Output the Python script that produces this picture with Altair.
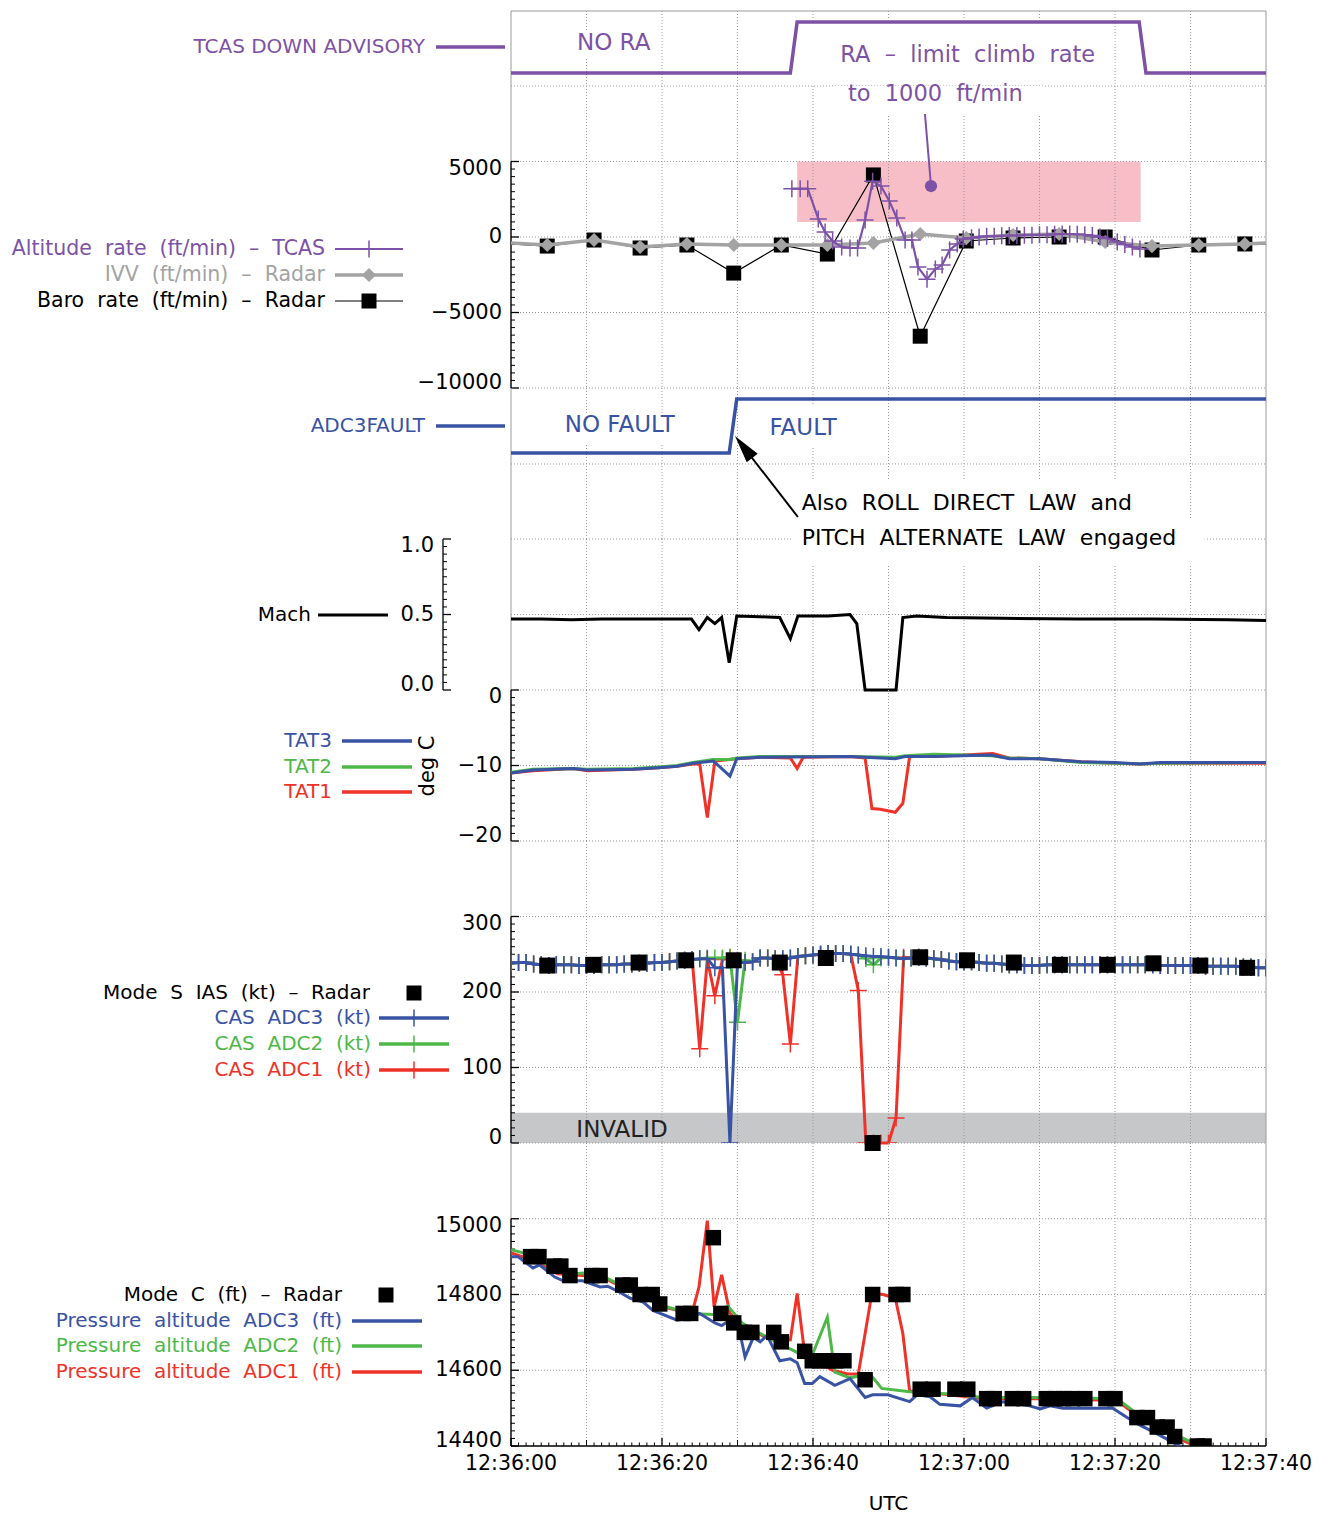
import altair as alt
import pandas as pd

# ======================= DATA =======================
# time in seconds after 12:36:00 UTC
time_major = [0, 20, 40, 60, 80, 100]
time_tick_labels = ["12:36:00", "12:36:20", "12:36:40", "12:37:00", "12:37:20", "12:37:40"]
time_grid = [10, 20, 30, 40, 50, 60, 70, 80, 90]

# TCAS down advisory state (0 = NO RA, 1 = RA)
tcas_t = [0, 37.0, 37.9, 83.2, 84.1, 100]
tcas_v = [0, 0, 1, 1, 0, 0]

# Altitude rate - TCAS (ft/min)
rate_tcas_t = [37.2, 38.3, 39.3, 40.7, 41.6, 42.6, 43.8, 44.9, 45.9, 46.9,
               47.9, 49.0, 50.1, 51.1, 52.2, 53.1, 53.9, 55.1, 56.2, 57.1,
               58.1, 59.1, 59.9, 61, 62, 63, 64, 65, 66, 67,
               68, 69, 70, 71, 72, 73, 74, 75, 76, 77,
               78, 79, 80.3, 81.3, 82.3, 83.3]
rate_tcas_v = [3200, 3200, 3200, 1200, 330, -270, -660, -730, -730, 1130,
               3700, 3380, 2390, 1260, -200, -200, -1990, -2790, -2120, -1860,
               -860, -460, -130, -50, 0, 50, 50, 80, 100, 100,
               120, 120, 150, 150, 180, 200, 200, 180, 150, 100,
               0, -100, -330, -500, -660, -800]

# Radar derived rates (ft/min)
radar_t = [0, 4.8, 11.0, 17.1, 23.3, 29.5, 35.8, 41.9, 48.0, 54.2, 60.3,
           66.5, 72.6, 78.7, 84.9, 91.1, 97.2, 100]
ivv_v = [-400, -530, -200, -660, -460, -530, -530, -530, -400, 200, -70,
         130, 200, -330, -600, -530, -460, -400]
baro_v = [-460, -600, -200, -730, -530, -2390, -530, -1130, 4110, -6570, -265,
          -66, 0, 0, -860, -530, -460, -460]

# ADC3 fault state (0 = NO FAULT, 1 = FAULT)
fault_t = [0, 28.9, 29.9, 100]
fault_v = [0, 0, 1, 1]

# Mach
mach_t = [0, 4, 8, 12, 16, 20, 23.9, 24.9, 26.0, 27.0,
          27.9, 28.9, 29.9, 33, 35.6, 37.0, 38.0, 42, 44.9, 45.8,
          46.9, 51.0, 51.9, 53.7, 57.7, 65, 75, 85, 95, 100]
mach_v = [0.47, 0.47, 0.465, 0.47, 0.47, 0.47, 0.47, 0.40, 0.48, 0.44,
          0.48, 0.18, 0.49, 0.485, 0.48, 0.34, 0.49, 0.49, 0.50, 0.44,
          0.0, 0.0, 0.48, 0.49, 0.48, 0.475, 0.47, 0.47, 0.465, 0.46]

# Total air temperature (deg C)
tat3_t = [0, 2.9, 8.2, 10.1, 16.2, 19.5, 22.0, 24.1, 26.8, 29.0,
          29.9, 33.0, 44.9, 50.9, 52.2, 56.0, 63.6, 66.0, 70.0, 75.5,
          80.0, 83.3, 86.0, 100]
tat3_v = [-11.0, -10.6, -10.4, -10.6, -10.5, -10.3, -10.1, -9.7, -9.4, -11.4,
          -9.1, -8.9, -8.8, -9.1, -8.8, -8.8, -8.6, -9.1, -9.1, -9.5,
          -9.6, -9.8, -9.6, -9.6]
tat2_t = tat3_t
tat2_v = [-10.9, -10.5, -10.4, -10.5, -10.4, -10.2, -10.0, -9.6, -9.2, -9.2,
          -9.0, -8.8, -8.8, -8.9, -8.7, -8.5, -8.7, -9.0, -9.1, -9.6,
          -9.7, -9.8, -9.7, -9.6]
tat1_t = [0, 2.9, 8.2, 10.1, 16.2, 19.5, 22.0, 24.1, 25.0, 26.0,
          27.0, 29.9, 33.0, 37.0, 37.9, 38.7, 44.9, 46.9, 47.8, 48.9,
          50.9, 51.9, 52.8, 56.0, 63.8, 66.0, 70.0, 75.5, 80.0, 83.3,
          86.0, 100]
tat1_v = [-11.0, -10.7, -10.4, -10.7, -10.5, -10.3, -10.1, -9.8, -9.8, -16.9,
          -9.4, -9.1, -8.9, -9.0, -10.4, -8.9, -8.8, -9.0, -15.7, -15.8,
          -16.2, -15.0, -8.8, -8.8, -8.4, -9.0, -9.1, -9.5, -9.7, -9.8,
          -9.7, -9.7]

# CAS (kt), one sample per second
cas_t = list(range(0, 101))
cas_adc3 = [238, 239, 239, 237, 236, 235, 236, 236, 236, 235,
            235, 235, 236, 236, 236, 237, 237, 238, 238, 239,
            239, 240, 241, 242, 243, 244, 244, 232, 232, 0,
            239, 239, 240, 245, 245, 244, 244, 245, 247, 248,
            249, 250, 251, 251, 251, 250, 249, 248, 247, 247,
            246, 245, 244, 245, 246, 245, 244, 243, 241, 240,
            240, 240, 239, 238, 238, 237, 236, 236, 235, 235,
            235, 236, 236, 236, 236, 236, 236, 236, 236, 236,
            236, 236, 236, 236, 236, 236, 235, 235, 235, 235,
            235, 235, 234, 234, 234, 234, 234, 233, 233, 232,
            232]
cas_adc2 = [238, 239, 239, 237, 236, 235, 236, 236, 236, 235,
            235, 235, 236, 236, 236, 237, 237, 238, 238, 239,
            239, 240, 241, 242, 243, 244, 245, 245, 245, 246,
            160, 242, 240, 245, 245, 244, 244, 245, 247, 248,
            249, 250, 251, 251, 251, 250, 249, 244, 236, 245,
            246, 245, 244, 245, 246, 245, 244, 243, 241, 240,
            240, 240, 239, 238, 238, 237, 236, 236, 235, 235,
            235, 236, 236, 236, 236, 236, 236, 236, 236, 236,
            236, 236, 236, 236, 236, 236, 235, 235, 235, 235,
            235, 235, 234, 234, 234, 234, 234, 233, 233, 232,
            232]
cas_adc1 = [238, 239, 239, 237, 236, 235, 236, 236, 236, 235,
            235, 235, 236, 236, 236, 237, 237, 238, 238, 239,
            239, 240, 241, 242, 243, 125, 243, 195, 243, 246,
            242, 239, 240, 245, 245, 244, 223, 131, 247, 248,
            249, 250, 251, 251, 251, 250, 202, 0, 0, 0,
            0, 33, 246, 245, 246, 245, 244, 243, 241, 240,
            240, 240, 239, 238, 238, 237, 236, 236, 235, 235,
            235, 236, 236, 236, 236, 236, 236, 236, 236, 236,
            236, 236, 236, 236, 236, 236, 235, 235, 235, 235,
            235, 235, 234, 234, 234, 234, 234, 233, 233, 232,
            232]
ias_t = [4.8, 10.9, 16.9, 23.2, 29.5, 35.6, 41.7, 47.9, 54.2, 60.4,
         66.6, 72.7, 79.0, 85.1, 91.3, 97.5]
ias_v = [235, 236, 239, 242, 242, 239, 245, 0, 246, 242,
         239, 236, 236, 238, 235, 232]

# Pressure altitude (ft)
pa3_t = [0, 0.9, 2.9, 3.8, 5.8, 6.9, 9.5, 11.8, 12.8, 14.4,
         15.8, 17.5, 18.8, 22.0, 23.7, 25.0, 27.0, 27.9, 29.4, 30.1,
         31.0, 32.1, 33.0, 33.9, 35.6, 37.0, 37.9, 38.9, 39.9, 40.9,
         42.9, 44.9, 46.9, 47.9, 49.9, 52.8, 53.8, 55.5, 56.8, 59.5,
         61.1, 63.0, 65.2, 68.7, 70.1, 71.4, 73.1, 79.7, 81.6, 83.3,
         85.6, 89.0]
pa3_v = [14900, 14900, 14870, 14878, 14846, 14836, 14836, 14820, 14822, 14806,
         14790, 14780, 14758, 14732, 14737, 14750, 14725, 14718, 14737, 14720,
         14635, 14687, 14675, 14692, 14625, 14630, 14620, 14565, 14565, 14583,
         14560, 14578, 14528, 14535, 14535, 14517, 14535, 14530, 14510, 14506,
         14528, 14500, 14517, 14506, 14498, 14506, 14500, 14500, 14475, 14455,
         14432, 14395]
pa2_t = [0, 1.6, 3.8, 6.1, 8.2, 9.5, 12.7, 14.0, 16.2, 18.8,
         20.7, 23.7, 26.8, 28.7, 30.7, 33.9, 37.9, 40.0, 41.9, 42.9,
         44.9, 47.5, 49.1, 52.8, 58.1, 62.5, 71.4, 80.3, 82.9, 89.0,
         91.7]
pa2_v = [14918, 14910, 14891, 14860, 14854, 14857, 14843, 14830, 14806, 14780,
         14767, 14750, 14747, 14770, 14723, 14687, 14647, 14645, 14740, 14595,
         14580, 14591, 14552, 14543, 14537, 14528, 14528, 14525, 14485, 14421,
         14395]
pa1_t = [0, 3.8, 6.1, 9.5, 12.7, 16.2, 20.7, 23.7, 24.1, 24.9,
         26.0, 26.9, 27.9, 29.0, 30.7, 33.9, 37.0, 37.9, 38.8, 40.9,
         42.6, 44.6, 46.0, 47.8, 49.3, 50.9, 51.9, 52.8, 58.1, 62.5,
         71.4, 80.3, 82.9, 89.0, 91.7]
pa1_v = [14910, 14885, 14855, 14850, 14840, 14805, 14765, 14750, 14760, 14820,
         14995, 14767, 14852, 14750, 14720, 14685, 14680, 14803, 14660, 14620,
         14600, 14590, 14590, 14803, 14800, 14790, 14697, 14545, 14535, 14525,
         14525, 14520, 14480, 14415, 14390]
modec_t = [2.6, 3.7, 5.7, 6.6, 7.8, 10.7, 11.8, 14.8, 15.8, 17.1,
           18.7, 19.7, 22.8, 23.8, 26.8, 27.8, 29.5, 30.9, 31.9, 34.8,
           35.8, 38.9, 39.9, 40.9, 42.0, 43.0, 44.1, 46.9, 47.9, 51.0,
           51.9, 54.2, 55.9, 58.8, 60.5, 63.0, 64.0, 66.4, 67.9, 70.9,
           72.1, 73.2, 74.4, 76.0, 78.8, 80.0, 82.9, 84.3, 85.6, 86.9,
           87.9, 90.9, 91.8]
modec_v = [14900, 14900, 14875, 14875, 14850, 14850, 14850, 14825, 14825, 14800,
           14800, 14775, 14750, 14750, 14950, 14750, 14725, 14700, 14700, 14700,
           14675, 14650, 14625, 14625, 14625, 14625, 14625, 14575, 14800, 14800,
           14800, 14550, 14550, 14550, 14550, 14525, 14525, 14525, 14525, 14525,
           14525, 14525, 14525, 14525, 14525, 14525, 14475, 14475, 14450, 14450,
           14425, 14400, 14400]

# axis tick values and their labels (ascending)
rate_ticks = [-10000, -5000, 0, 5000]
rate_tick_labels = ["\u221210000", "\u22125000", "0", "5000"]
mach_ticks = [0, 0.5, 1]
mach_tick_labels = ["0.0", "0.5", "1.0"]
tat_ticks = [-20, -10, 0]
tat_tick_labels = ["\u221220", "\u221210", "0"]
cas_ticks = [0, 100, 200, 300]
cas_tick_labels = ["0", "100", "200", "300"]
pa_ticks = [14400, 14600, 14800, 15000]
pa_tick_labels = ["14400", "14600", "14800", "15000"]

# ======================= STYLE =======================
FONT = "DejaVu Sans"
W = 755
H1, H2, H3, H4, H5, H6, H7 = 75, 302, 151, 151, 151, 302, 303
PURPLE = "#7D52A6"
BLUE = "#3953A4"
GREEN = "#4DB848"
RED = "#EE3228"
GRAY = "#A3A3A3"
PINK = "#F7BEC8"
BAND = "#C6C7C9"
GRIDC = "#9A9A9A"
FRAMEC = "#9A9A9A"
PLUS = "M-1,0L1,0M0,-1L0,1"
ARROW = "M0,-1L0.5,1L-0.5,1Z"
GAP = "\u00a0\u00a0"


def w(s):
    return s.replace(" ", GAP)


XS = alt.Scale(domain=[0, 100], nice=False, zero=False)
YS1 = alt.Scale(domain=[-0.2549, 1.2157], nice=False, zero=False)
YS2 = alt.Scale(domain=[-10000, 10000], nice=False, zero=False)
YS3 = alt.Scale(domain=[-1.5926, 1.2037], nice=False, zero=False)
YS4 = alt.Scale(domain=[0, 1], nice=False, zero=False)
YS5 = alt.Scale(domain=[-20, 0], nice=False, zero=False)
YS6 = alt.Scale(domain=[0, 400], nice=False, zero=False)
YS7 = alt.Scale(domain=[14400, 15200], nice=False, zero=False)

ONE = pd.DataFrame({"a": [0]})


def xf():
    return alt.X("t:Q", scale=XS, axis=None)


def yf(ys):
    return alt.Y("v:Q", scale=ys, axis=None)


def series(t, v):
    return pd.DataFrame({"t": t, "v": v})


def line(t, v, ys, color, width, clip=False):
    return alt.Chart(series(t, v)).mark_line(color=color, strokeWidth=width, clip=clip).encode(x=xf(), y=yf(ys))


def pts(t, v, ys, shape, size, color, filled, sw=1.5, clip=False):
    return alt.Chart(series(t, v)).mark_point(shape=shape, size=size, color=color, filled=filled,
                                               opacity=1, strokeWidth=sw, clip=clip).encode(x=xf(), y=yf(ys))


def vgrid(h):
    return alt.Chart(pd.DataFrame({"t": time_grid})).mark_rule(
        color=GRIDC, strokeDash=[1, 2], strokeWidth=1).encode(x=xf(), y=alt.value(0), y2=alt.value(h))


def hgrid(values, ys):
    return alt.Chart(pd.DataFrame({"v": values})).mark_rule(
        color=GRIDC, strokeDash=[1, 2], strokeWidth=1).encode(x=alt.value(0), x2=alt.value(W), y=yf(ys))


def frame(h, top=False):
    ls = [alt.Chart(ONE).mark_rule(color=FRAMEC, strokeWidth=1).encode(x=alt.value(0), y=alt.value(0), y2=alt.value(h)),
          alt.Chart(ONE).mark_rule(color=FRAMEC, strokeWidth=1).encode(x=alt.value(W), y=alt.value(0), y2=alt.value(h))]
    if top:
        ls.append(alt.Chart(ONE).mark_rule(color=FRAMEC, strokeWidth=1).encode(
            x=alt.value(0), x2=alt.value(W), y=alt.value(0)))
    return ls


def ylab(values, labels, ys, x, dy):
    return alt.Chart(pd.DataFrame({"v": values, "lab": labels})).mark_text(
        align="right", baseline="middle", fontSize=21, font=FONT, color="black", dy=dy).encode(
        x=alt.value(x), y=yf(ys), text="lab:N")


def yaxis(ys, top, bottom, minor, major, labels, x0=0):
    # end labels sit just inside the axis range, as in the reference
    return [
        alt.Chart(ONE).mark_rule(color="black", strokeWidth=1.3).encode(
            x=alt.value(x0), y=alt.YDatum(top, scale=ys, axis=None), y2=alt.Y2Datum(bottom)),
        alt.Chart(pd.DataFrame({"v": minor})).mark_rule(color="black", strokeWidth=1).encode(
            x=alt.value(x0), x2=alt.value(x0 + 4), y=yf(ys)),
        alt.Chart(pd.DataFrame({"v": major})).mark_rule(color="black", strokeWidth=1.3).encode(
            x=alt.value(x0), x2=alt.value(x0 + 8), y=yf(ys)),
        ylab(major[:1], labels[:1], ys, x0 - 9, -5),
        ylab(major[1:-1], labels[1:-1], ys, x0 - 9, 0),
        ylab(major[-1:], labels[-1:], ys, x0 - 9, 7),
    ]


def box(t1, t2, v1, v2, ys, color="white"):
    return alt.Chart(ONE).mark_rect(color=color).encode(
        x=alt.XDatum(t1, scale=XS, axis=None), x2=alt.X2Datum(t2),
        y=alt.YDatum(v1, scale=ys, axis=None), y2=alt.Y2Datum(v2))


def note(text, t, v, ys, color, size=22.5, align="center"):
    return alt.Chart(ONE).mark_text(text=text, color=color, fontSize=size, font=FONT, align=align,
                                     baseline="middle").encode(
        x=alt.XDatum(t, scale=XS, axis=None), y=alt.YDatum(v, scale=ys, axis=None))


def ltext(text, x, y, color, size=20):
    return alt.Chart(ONE).mark_text(text=text, color=color, fontSize=size, font=FONT, align="right",
                                     baseline="middle").encode(x=alt.value(x), y=alt.value(y))


def lline(x1, x2, y, color, width=3.5):
    return alt.Chart(ONE).mark_rule(color=color, strokeWidth=width).encode(
        x=alt.value(x1), x2=alt.value(x2), y=alt.value(y))


def lmark(x, y, shape, size, color, filled, sw=1.5):
    return alt.Chart(ONE).mark_point(shape=shape, size=size, color=color, filled=filled, opacity=1,
                                      strokeWidth=sw).encode(x=alt.value(x), y=alt.value(y))


# ======================= PANELS =======================
# 1. TCAS advisory
p1 = alt.layer(
    alt.Chart(ONE).mark_rule(opacity=0, strokeOpacity=0).encode(x=alt.value(-511), x2=alt.value(-505), y=alt.value(0)),
    vgrid(H1), *frame(H1, top=True),
    box(7.5, 19.7, 0.843, 0.314, YS1),
    box(39.5, 79.9, 1.078, -0.2549, YS1),
    line(tcas_t, tcas_v, YS1, PURPLE, 3.5),
    note("NO RA", 13.6, 0.588, YS1, PURPLE, size=23),
    note(w("RA – limit climb rate"), 60.5, 0.353, YS1, PURPLE),
    ltext("TCAS DOWN ADVISORY", -86, 36, PURPLE),
    lline(-75, -6, 36, PURPLE),
).properties(width=W, height=H1)

# 2. Altitude rates
p2 = alt.layer(
    box(37.9, 83.4, 5000, 1000, YS2, PINK),
    vgrid(H2),
    hgrid([10000, 5000, 0, -5000, -10000], YS2),
    *frame(H2),
    *yaxis(YS2, 5000, -10000, [v for v in range(-10000, 5001, 500) if v % 5000], rate_ticks, rate_tick_labels),
    box(42.6, 70.6, 10000, 8013, YS2),
    line(radar_t, baro_v, YS2, "black", 1.2),
    pts(radar_t[1:-1], baro_v[1:-1], YS2, "square", 225, "black", True),
    line(radar_t, ivv_v, YS2, GRAY, 3.5),
    pts(radar_t[1:-1], ivv_v[1:-1], YS2, "diamond", 200, GRAY, True),
    line(rate_tcas_t, rate_tcas_v, YS2, PURPLE, 2.2),
    pts(rate_tcas_t, rate_tcas_v, YS2, PLUS, 289, PURPLE, False, 1.5),
    alt.Chart(ONE).mark_rule(color=PURPLE, strokeWidth=2).encode(
        x=alt.XDatum(54.83, scale=XS, axis=None), x2=alt.X2Datum(55.63),
        y=alt.YDatum(8146, scale=YS2, axis=None), y2=alt.Y2Datum(3377)),
    alt.Chart(ONE).mark_point(shape="circle", size=150, color=PURPLE, filled=True, opacity=1).encode(
        x=alt.XDatum(55.63, scale=XS, axis=None), y=alt.YDatum(3377, scale=YS2, axis=None)),
    note(w("to 1000 ft/min"), 56.2, 9470, YS2, PURPLE),
    ltext(w("Altitude rate (ft/min) – TCAS"), -186, 163, PURPLE, size=20.5),
    lline(-176, -108, 163, PURPLE, 2),
    lmark(-142, 163, PLUS, 289, PURPLE, False),
    ltext(w("IVV (ft/min) – Radar"), -186, 189, GRAY, size=20.5),
    lline(-176, -108, 189, GRAY, 3.5),
    lmark(-142, 189, "diamond", 200, GRAY, True),
    ltext(w("Baro rate (ft/min) – Radar"), -186, 215, "black", size=20.5),
    lline(-176, -108, 215, "black", 1.2),
    lmark(-142, 215, "square", 225, "black", True),
).properties(width=W, height=H2)

# 3. ADC3 fault
p3 = alt.layer(
    vgrid(H3), hgrid([-0.2037, -1.5926], YS3), *frame(H3),
    box(5.6, 23.4, 0.722, 0.167, YS3),
    box(33.0, 44.9, 0.87, 0.13, YS3),
    box(37.2, 84.6, -0.481, -1.222, YS3),
    box(37.2, 91.9, -1.222, -1.5926, YS3),
    line(fault_t, fault_v, YS3, BLUE, 3.5),
    note("NO\u00a0FAULT", 14.4, 0.519, YS3, BLUE, size=23),
    note("FAULT", 38.7, 0.454, YS3, BLUE, size=23),
    note(w("Also ROLL DIRECT LAW and"), 38.5, -0.926, YS3, "black", size=22, align="left"),
    alt.Chart(ONE).mark_rule(color="black", strokeWidth=2).encode(
        x=alt.XDatum(38.0, scale=XS, axis=None), x2=alt.X2Datum(30.81),
        y=alt.YDatum(-1.185, scale=YS3, axis=None), y2=alt.Y2Datum(0.111)),
    alt.Chart(ONE).mark_point(shape=ARROW, size=784, angle=322, color="black", filled=True, opacity=1).encode(
        x=alt.XDatum(30.81, scale=XS, axis=None), y=alt.YDatum(0.111, scale=YS3, axis=None)),
    ltext("ADC3FAULT", -86, 38, BLUE),
    lline(-75, -6, 38, BLUE),
).properties(width=W, height=H3)

# 4. Mach
p4 = alt.layer(
    vgrid(H4), hgrid([0.5, 0.0], YS4), *frame(H4),
    *yaxis(YS4, 1, 0, [i * 0.05 for i in range(21) if i % 10], mach_ticks, mach_tick_labels, x0=-68),
    box(37.2, 91.9, 1.0, 0.834, YS4),
    line(mach_t, mach_v, YS4, "black", 3),
    note(w("PITCH ALTERNATE LAW engaged"), 38.5, 1.007, YS4, "black", size=22, align="left"),
    ltext("Mach", -200, 76, "black"),
    lline(-193, -123, 76, "black", 3),
).properties(width=W, height=H4)

# 5. TAT
p5 = alt.layer(
    vgrid(H5), hgrid([-10, -20], YS5), *frame(H5),
    *yaxis(YS5, 0, -20, [v for v in range(-20, 1) if v % 10], tat_ticks, tat_tick_labels),
    alt.Chart(ONE).mark_text(text="deg C", angle=270, fontSize=21, font=FONT, color="black",
                             align="center", baseline="middle").encode(x=alt.value(-83), y=alt.value(76)),
    line(tat1_t, tat1_v, YS5, RED, 3),
    line(tat2_t, tat2_v, YS5, GREEN, 3),
    line(tat3_t, tat3_v, YS5, BLUE, 3),
    ltext("TAT3", -179, 51, BLUE),
    lline(-169, -99, 51, BLUE),
    ltext("TAT2", -179, 77, GREEN),
    lline(-169, -99, 77, GREEN),
    ltext("TAT1", -179, 102, RED),
    lline(-169, -99, 102, RED),
).properties(width=W, height=H5)

# 6. CAS
p6 = alt.layer(
    box(0, 100, 0, 40, YS6, BAND),
    vgrid(H6), hgrid([300, 200, 100, 0], YS6), *frame(H6),
    *yaxis(YS6, 300, 0, [v for v in range(0, 301, 10) if v % 100], cas_ticks, cas_tick_labels),
    note("INVALID", 14.7, 17, YS6, "#222222", size=23),
    line(cas_t, cas_adc1, YS6, RED, 3),
    pts(cas_t, cas_adc1, YS6, PLUS, 289, RED, False, clip=True),
    line(cas_t, cas_adc2, YS6, GREEN, 3),
    pts(cas_t, cas_adc2, YS6, PLUS, 289, GREEN, False, clip=True),
    line(cas_t, cas_adc3, YS6, BLUE, 3),
    pts(cas_t, cas_adc3, YS6, PLUS, 289, BLUE, False, clip=True),
    pts(ias_t, ias_v, YS6, "square", 256, "black", True),
    ltext(w("Mode S IAS (kt) – Radar"), -141, 152, "black"),
    lmark(-97, 152, "square", 225, "black", True),
    ltext(w("CAS ADC3 (kt)"), -140, 177, BLUE),
    lline(-132, -62, 177, BLUE),
    lmark(-97, 177, PLUS, 289, BLUE, False),
    ltext(w("CAS ADC2 (kt)"), -140, 203, GREEN),
    lline(-132, -62, 203, GREEN),
    lmark(-97, 203, PLUS, 289, GREEN, False),
    ltext(w("CAS ADC1 (kt)"), -140, 229, RED),
    lline(-132, -62, 229, RED),
    lmark(-97, 229, PLUS, 289, RED, False),
).properties(width=W, height=H6)

# 7. Pressure altitude + time axis
p7 = alt.layer(
    vgrid(H7), hgrid([15000, 14800, 14600], YS7), *frame(H7),
    *yaxis(YS7, 15000, 14400, [v for v in range(14400, 15001, 20) if v % 200], pa_ticks, pa_tick_labels),
    alt.Chart(ONE).mark_rule(color="black", strokeWidth=1.5).encode(
        x=alt.value(0), x2=alt.value(W), y=alt.value(H7)),
    alt.Chart(pd.DataFrame({"t": [v for v in range(0, 101) if v % 10]})).mark_rule(color="black").encode(
        x=xf(), y=alt.value(H7), y2=alt.value(H7 - 3.5)),
    alt.Chart(pd.DataFrame({"t": [10, 30, 50, 70, 90]})).mark_rule(color="black").encode(
        x=xf(), y=alt.value(H7), y2=alt.value(H7 - 6)),
    alt.Chart(pd.DataFrame({"t": time_major})).mark_rule(color="black", strokeWidth=1.3).encode(
        x=xf(), y=alt.value(H7), y2=alt.value(H7 - 8)),
    alt.Chart(pd.DataFrame({"t": time_major, "lab": time_tick_labels})).mark_text(
        align="center", baseline="middle", fontSize=20.5, font=FONT, color="black").encode(
        x=xf(), y=alt.value(H7 + 18), text="lab:N"),
    alt.Chart(ONE).mark_text(text="UTC", fontSize=20, font=FONT, color="black", align="center",
                             baseline="middle").encode(x=alt.value(W / 2), y=alt.value(H7 + 58)),
    line(pa1_t, pa1_v, YS7, RED, 3, clip=True),
    line(pa2_t, pa2_v, YS7, GREEN, 3, clip=True),
    line(pa3_t, pa3_v, YS7, BLUE, 3, clip=True),
    pts(modec_t, modec_v, YS7, "square", 240, "black", True, clip=True),
    ltext(w("Mode C (ft) – Radar"), -169, 152, "black"),
    lmark(-125, 152, "square", 225, "black", True),
    ltext(w("Pressure altitude ADC3 (ft)"), -169, 178, BLUE),
    lline(-159, -89, 178, BLUE),
    ltext(w("Pressure altitude ADC2 (ft)"), -169, 203, GREEN),
    lline(-159, -89, 203, GREEN),
    ltext(w("Pressure altitude ADC1 (ft)"), -169, 229, RED),
    lline(-159, -89, 229, RED),
).properties(width=W, height=H7)

chart = alt.vconcat(p1, p2, p3, p4, p5, p6, p7, spacing=0, bounds="flush").properties(
    padding={"left": 0, "top": 10, "right": 5, "bottom": 5}
).configure(font=FONT).configure_view(stroke=None)

chart.save("out.html", embed_options={"renderer": "svg", "actions": False})
